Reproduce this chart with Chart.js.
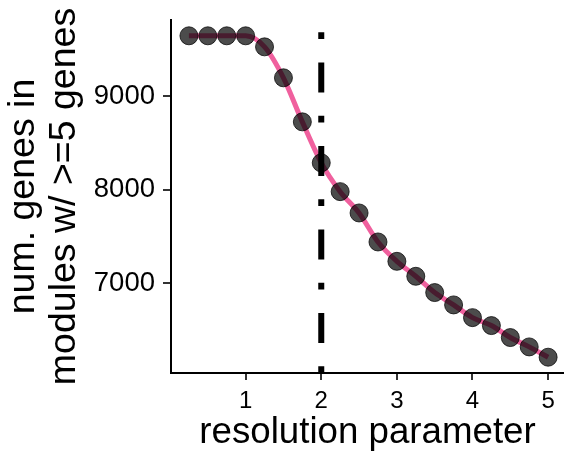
<!DOCTYPE html>
<html><head><meta charset="utf-8">
<script src="https://cdn.jsdelivr.net/npm/chart.js@4.4.0/dist/chart.umd.min.js"></script>
<style>html,body{margin:0;padding:0;background:#fff;overflow:hidden}#wrap{width:564px;height:456px;position:relative}</style>
</head><body><div id="wrap"><canvas id="c"></canvas></div>
<script>
const resolution = [0.25,0.5,0.75,1.0,1.25,1.5,1.75,2.0,2.25,2.5,2.75,3.0,3.25,3.5,3.75,4.0,4.25,4.5,4.75,5.0];
const numGenes = [9645,9645,9645,9645,9527,9196,8725,8287,7979,7751,7441,7234,7074,6900,6768,6632,6547,6419,6319,6209];
const xTicks = [1,2,3,4,5];
const yTicks = [7000,8000,9000];
const chosenResolution = 2;
const xRange = [0.013, 5.21];
const yRange = [6040, 9814];

const FONT = "'Liberation Sans', Arial, Helvetica, sans-serif";
const points = resolution.map((x,i)=>({x:x, y:numGenes[i]}));
const vline = [{x:chosenResolution, y:yRange[0]}, {x:chosenResolution, y:yRange[1]}];

new Chart(document.getElementById('c'), {
  type: 'scatter',
  data: {
    datasets: [
      {
        data: points,
        showLine: true,
        borderColor: '#f0609e',
        borderWidth: 5,
        cubicInterpolationMode: 'monotone',
        pointRadius: 9,
        pointHoverRadius: 9,
        pointBackgroundColor: 'rgba(0,0,0,0.7)',
        pointBorderColor: 'rgba(0,0,0,0.75)',
        pointBorderWidth: 1,
        clip: false,
        order: 2
      },
      {
        data: vline,
        showLine: true,
        borderColor: '#000',
        borderWidth: 6,
        borderDash: [6.7, 23.3, 30, 23.5],
        borderCapStyle: 'butt',
        pointRadius: 0,
        pointHoverRadius: 0,
        order: 1
      }
    ]
  },
  options: {
    responsive: true,
    maintainAspectRatio: false,
    animation: false,
    devicePixelRatio: 1,
    layout: { autoPadding: false, padding: { top: 20, right: 0, left: 0, bottom: 0 } },
    plugins: { legend: { display: false }, tooltip: { enabled: false } },
    scales: {
      x: {
        type: 'linear',
        min: xRange[0], max: xRange[1],
        afterFit: s => { s.height = 83; s.paddingLeft = 0; s.paddingRight = 0; },
        afterBuildTicks: s => { s.ticks = xTicks.map(v => ({value: v})); },
        grid: { drawOnChartArea: false, drawTicks: true, tickLength: 7, color: '#333', lineWidth: 2 },
        border: { display: true, color: '#000', width: 2 },
        ticks: { color: '#000', font: { family: FONT, size: 24 }, padding: 7, maxRotation: 0, callback: v => String(v) },
        title: { display: true, text: 'resolution parameter', color: '#000', font: { family: FONT, size: 36.7, lineHeight: 1.2 }, padding: { top: 0, bottom: 1 } }
      },
      y: {
        type: 'linear',
        min: yRange[0], max: yRange[1],
        afterFit: s => { s.width = 171; s.paddingTop = 0; s.paddingBottom = 0; },
        afterBuildTicks: s => { s.ticks = yTicks.map(v => ({value: v})); },
        grid: { drawOnChartArea: false, drawTicks: true, tickLength: 8, color: '#333', lineWidth: 2 },
        border: { display: true, color: '#000', width: 2 },
        ticks: { color: '#000', font: { family: FONT, size: 27.5 }, padding: 8, callback: v => String(v) },
        title: { display: true, text: ['num. genes in', 'modules w/ >=5 genes'], color: '#000', font: { family: FONT, size: 37.5, lineHeight: 1.07 }, padding: { top: 4, bottom: 0 } }
      }
    }
  }
});
</script>
</body></html>
